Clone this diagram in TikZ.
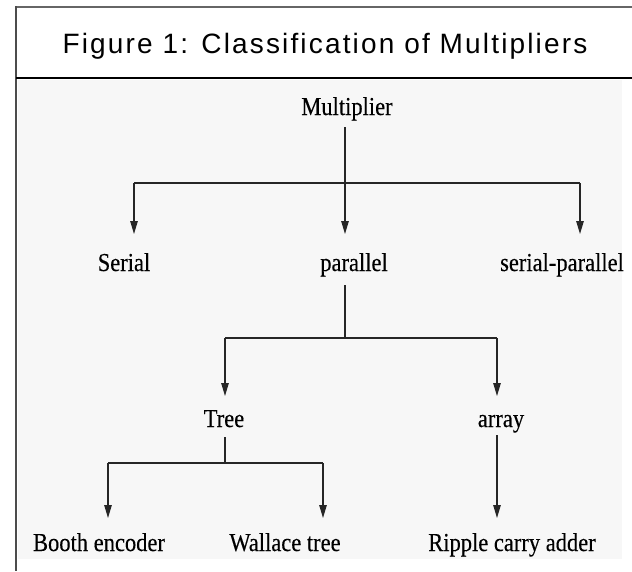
\documentclass[tikz,border=0pt]{standalone}
\usepackage{fontspec}
\setmainfont{Liberation Serif}
\newfontfamily\lblfont[FakeBold=0.3]{Liberation Serif}
\newfontfamily\titlefont[LetterSpace=7.7]{Liberation Sans}
\usetikzlibrary{arrows.meta}
% labels are set slightly tall and narrow
\newcommand\tallText[1]{\scalebox{1}[1.15]{#1}}
\begin{document}
\begin{tikzpicture}[x=1pt,y=-1pt,
  lbl/.style={inner sep=0pt, anchor=base, font=\lblfont\fontsize{22.5}{24}\selectfont},
  link/.style={line width=1.1pt, draw=black!85},
  arr/.style={link, -{Triangle[length=13pt,width=7.5pt]}}]
\useasboundingbox (0,0) rectangle (632,571);
\fill[white] (0,0) rectangle (632,571);
% panel background of the chart
\fill[black!3] (18,80) rectangle (622,559);
% frame and header rule
\draw[line width=2pt, black!60] (15,7) -- (632,7);
\draw[line width=1.4pt, black!70] (16,6) -- (16,571);
\draw[line width=2.2pt] (16,78) -- (632,78);
\node[inner sep=0pt, anchor=base, font=\titlefont\fontsize{28}{30}\selectfont] (title) at (325,53) {Figure 1: Classification of Multipliers};

% labels
\node[lbl] (mult) at (347,115) {\tallText{Multiplier}};
\node[lbl] (serial) at (124,271) {\tallText{Serial}};
\node[lbl] (par) at (354,271) {\tallText{parallel}};
\node[lbl] (sp) at (562,271) {\tallText{serial-parallel}};
\node[lbl] (tree) at (224,427) {\tallText{Tree}};
\node[lbl] (arrayn) at (501,427) {\tallText{array}};
\node[lbl] (booth) at (99,551) {\tallText{Booth encoder}};
\node[lbl] (wallace) at (285,551) {\tallText{Wallace tree}};
\node[lbl] (ripple) at (512,551) {\tallText{Ripple carry adder}};

% junction and tip points
\coordinate (m0) at (345,127);
\coordinate (b1l) at (134,183);
\coordinate (b1r) at (580,183);
\coordinate (t1l) at (134,234);
\coordinate (t1m) at (345,234);
\coordinate (t1r) at (580,234);
\coordinate (p0) at (345,285);
\coordinate (b2m) at (345,338);
\coordinate (b2l) at (225,338);
\coordinate (b2r) at (497,338);
\coordinate (t2l) at (225,396);
\coordinate (t2r) at (497,396);
\coordinate (tr0) at (225,437);
\coordinate (b3m) at (225,463);
\coordinate (b3l) at (108,463);
\coordinate (b3r) at (323,463);
\coordinate (t3l) at (108,518);
\coordinate (t3r) at (323,518);
\coordinate (a0) at (497,435);
\coordinate (t3a) at (497,518);

% first level
\draw[arr] (m0) -- (t1m);
\draw[link] (b1l) -- (b1r);
\draw[arr] (b1l) -- (t1l);
\draw[arr] (b1r) -- (t1r);
% parallel branch
\draw[link] (p0) -- (b2m);
\draw[link] (b2l) -- (b2r);
\draw[arr] (b2l) -- (t2l);
\draw[arr] (b2r) -- (t2r);
% tree branch
\draw[link] (tr0) -- (b3m);
\draw[link] (b3l) -- (b3r);
\draw[arr] (b3l) -- (t3l);
\draw[arr] (b3r) -- (t3r);
% array branch
\draw[arr] (a0) -- (t3a);
\end{tikzpicture}
\end{document}
